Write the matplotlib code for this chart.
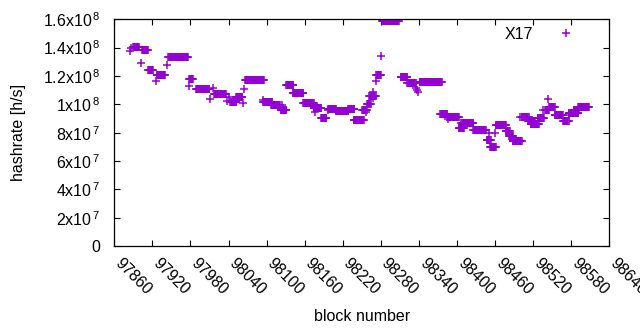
import numpy as np
import matplotlib
matplotlib.use('Agg')
import matplotlib.pyplot as plt
import matplotlib.transforms as mtransforms

plt.rcParams['font.family'] = ['Liberation Sans', 'DejaVu Sans']
plt.rcParams['mathtext.fontset'] = 'custom'
plt.rcParams['mathtext.rm'] = 'Liberation Sans'
plt.rcParams['mathtext.it'] = 'Liberation Sans'

# runs of consecutive blocks sharing one hashrate value (values in MH/s)
run_start = [97890, 97904, 97913, 97927, 97945, 97978, 97989, 98017, 98043, 98052,
             98066, 98095, 98107, 98122, 98131, 98141, 98158, 98174, 98186, 98197,
             98209, 98229, 98237, 98251, 98258, 98262, 98273, 98282, 98311, 98322,
             98341, 98374, 98385, 98403, 98407, 98426, 98447, 98452, 98461, 98477,
             98482, 98488, 98502, 98512, 98516, 98527, 98539, 98545, 98554, 98567,
             98576, 98584, 98591]
run_end = [97899, 97913, 97921, 97940, 97976, 97984, 98010, 98036, 98052, 98062,
           98096, 98109, 98121, 98131, 98142, 98158, 98174, 98186, 98194, 98209,
           98229, 98238, 98253, 98258, 98264, 98272, 98280, 98308, 98322, 98335,
           98376, 98385, 98403, 98411, 98426, 98445, 98453, 98461, 98477, 98483,
           98488, 98502, 98513, 98523, 98529, 98537, 98545, 98554, 98567, 98576,
           98591, 98592, 98608]
run_value = [140.3, 138.2, 124.4, 120.6, 133.2, 117.7, 110.7, 107.2, 101.5, 105.0,
             117.0, 101.5, 99.4, 95.9, 113.5, 107.9, 100.8, 97.3, 90.2, 96.6,
             95.2, 96.6, 88.8, 95.9, 100.1, 105.8, 120.9, 158.6, 119.1, 114.9,
             115.6, 93.1, 90.9, 83.2, 86.7, 81.8, 74.7, 69.8, 85.3, 81.1,
             77.6, 74.0, 90.9, 88.1, 86.4, 90.2, 95.9, 98.0, 92.4, 88.1,
             93.8, 95.9, 98.0]

# single blocks standing apart from the runs
single_block = [97884, 97886, 97902, 97926, 97943, 97977, 98011, 98015, 98037, 98041,
                98063, 98065, 98095, 98124, 98176, 98197, 98253, 98256, 98268, 98268,
                98272, 98281, 98336, 98337, 98338, 98386, 98403, 98450, 98460, 98499,
                98535, 98544, 98576]
single_value = [137.5, 139.6, 129.5, 116.3, 127.6, 113.0, 104.1, 111.2, 102.4, 105.3,
                101.0, 110.5, 102.9, 99.4, 94.7, 95.9, 95.9, 94.7, 104.8, 108.6,
                116.5, 134.0, 111.4, 110.0, 108.4, 89.3, 83.0, 79.9, 79.5, 90.7,
                95.9, 103.4, 92.4]

y_ticks = [0, 2e7, 4e7, 6e7, 8e7, 1e8, 1.2e8, 1.4e8, 1.6e8]
y_labels = ['0', '2x10$^{\\,7}$', '4x10$^{\\,7}$', '6x10$^{\\,7}$', '8x10$^{\\,7}$',
            '1x10$^{\\,8}$', '1.2x10$^{\\,8}$', '1.4x10$^{\\,8}$', '1.6x10$^{\\,8}$']
x_ticks = list(range(97860, 98641, 60))

blocks = []
rates = []
for s, e, v in zip(run_start, run_end, run_value):
    for b in range(s, e + 1):
        blocks.append(b)
        rates.append(v * 1e6)
blocks += single_block
rates += [v * 1e6 for v in single_value]

fig = plt.figure(figsize=(6.4, 3.3), dpi=100)
ax = fig.add_axes([114.3 / 640, 84 / 330, 495 / 640, 226.7 / 330])

ax.plot(blocks, rates, '+', color='#9400D3', ms=6, mew=1.1, label='X17')

ax.set_xlim(97860, 98640)
ax.set_ylim(0, 1.6e8)
ax.set_xticks(x_ticks)
ax.set_xticklabels([str(t) for t in x_ticks], rotation=-45, ha='left', va='top',
                   rotation_mode='anchor')
ax.set_yticks(y_ticks)
ax.set_yticklabels(y_labels)
ax.tick_params(direction='in', top=True, right=True, length=4, width=0.8,
               labelsize=11.5, colors='black')
ax.tick_params(axis='x', pad=7)
ax.tick_params(axis='y', pad=10)
shift = mtransforms.ScaledTranslation(6 / 72, 0, fig.dpi_scale_trans)
for lab in ax.get_xticklabels():
    lab.set_transform(lab.get_transform() + shift)
for sp in ax.spines.values():
    sp.set_linewidth(0.9)

ax.set_xlabel('block number', fontsize=11.5, labelpad=8)
ax.set_ylabel('hashrate [h/s]', fontsize=11.5, labelpad=12)

ax.legend(loc='upper right', bbox_to_anchor=(0.945, 0.968), frameon=False,
          markerfirst=False, numpoints=1, handlelength=2, handletextpad=1.05,
          borderpad=0, borderaxespad=0, fontsize=11.5)

fig.savefig('out.png', dpi=100)
